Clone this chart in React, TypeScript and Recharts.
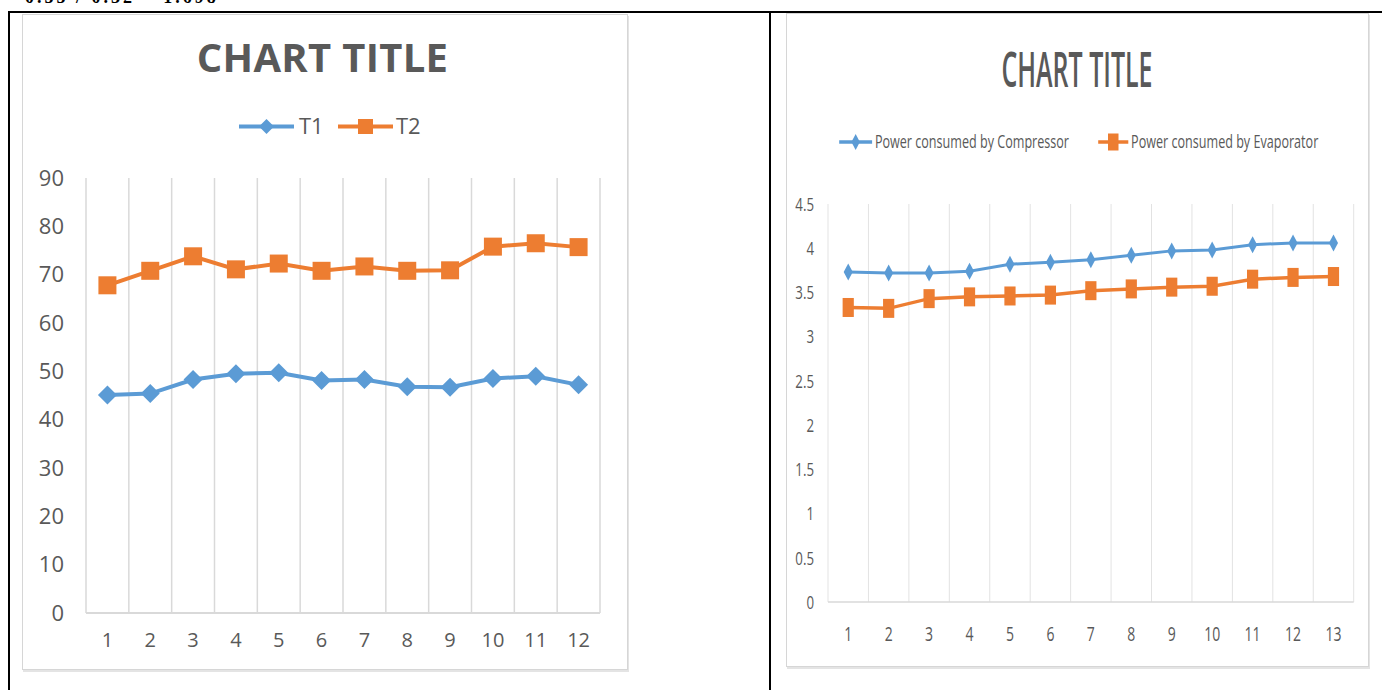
import React from 'react';
import { LineChart, Line, XAxis, YAxis, CartesianGrid } from 'recharts';

// Temperature readings (left chart)
const tempLabels = ['1', '2', '3', '4', '5', '6', '7', '8', '9', '10', '11', '12'];
const t1Values = [45.1, 45.4, 48.3, 49.5, 49.7, 48.1, 48.3, 46.8, 46.7, 48.5, 49.0, 47.2];
const t2Values = [67.8, 70.8, 73.8, 71.1, 72.3, 70.8, 71.7, 70.8, 70.9, 75.8, 76.5, 75.7];
const tempTicks = [0, 10, 20, 30, 40, 50, 60, 70, 80, 90];

// Power consumption readings (right chart)
const powerLabels = ['1', '2', '3', '4', '5', '6', '7', '8', '9', '10', '11', '12', '13'];
const compressorValues = [3.73, 3.72, 3.72, 3.74, 3.82, 3.84, 3.87, 3.92, 3.97, 3.98, 4.04, 4.06, 4.06];
const evaporatorValues = [3.33, 3.32, 3.43, 3.45, 3.46, 3.47, 3.52, 3.54, 3.56, 3.57, 3.65, 3.67, 3.68];
const powerTicks = [0, 0.5, 1, 1.5, 2, 2.5, 3, 3.5, 4, 4.5];

const BLUE = '#5B9BD5';
const ORANGE = '#ED7D31';
const TEXT = '#595959';
const GRID = '#D9D9D9';
const FONT = "'Open Sans', 'Noto Sans', sans-serif";

const tempData = tempLabels.map((label, i) => ({ label, T1: t1Values[i], T2: t2Values[i] }));
const powerData = powerLabels.map((label, i) => ({
  label,
  compressor: compressorValues[i],
  evaporator: evaporatorValues[i],
}));

type MarkProps = { cx?: number; cy?: number; w: number; h: number; fill: string };

function Diamond({ cx, cy, w, h, fill }: MarkProps) {
  if (cx == null || cy == null) return null;
  return (
    <path
      d={`M${cx},${cy - h / 2}L${cx + w / 2},${cy}L${cx},${cy + h / 2}L${cx - w / 2},${cy}Z`}
      fill={fill}
    />
  );
}

function Square({ cx, cy, w, h, fill }: MarkProps) {
  if (cx == null || cy == null) return null;
  return <rect x={cx - w / 2} y={cy - h / 2} width={w} height={h} fill={fill} />;
}

// Vertical grid lines sit on the category boundaries, not the centres
const bandBoundaries = (count: number) => (props: any) => {
  const off = props.offset;
  return Array.from({ length: count + 1 }, (_, i) => off.left + (i * off.width) / count);
};

function TemperatureChart() {
  return (
    <LineChart
      width={606}
      height={656}
      data={tempData}
      margin={{ top: 164, right: 28, left: 14, bottom: 27 }}
      style={{ fontFamily: FONT }}
    >
      <CartesianGrid
        horizontal={false}
        stroke={GRID}
        strokeWidth={1.5}
        verticalCoordinatesGenerator={bandBoundaries(tempLabels.length)}
      />
      <XAxis
        dataKey="label"
        scale="band"
        height={30}
        axisLine={{ stroke: GRID, strokeWidth: 2 }}
        tickLine={false}
        tickSize={0}
        tickMargin={20}
        interval={0}
        tick={{ fill: TEXT, fontSize: 20, fontFamily: FONT }}
      />
      <YAxis
        width={50}
        domain={[0, 90]}
        ticks={tempTicks}
        axisLine={false}
        tickLine={false}
        tickSize={0}
        tickMargin={22}
        interval={0}
        tick={{ fill: TEXT, fontSize: 22, fontFamily: FONT }}
      />
      <Line
        dataKey="T1"
        stroke={BLUE}
        strokeWidth={4}
        isAnimationActive={false}
        activeDot={false}
        dot={(p: any) => <Diamond key={`t1-${p.index}`} cx={p.cx} cy={p.cy} w={19} h={19} fill={BLUE} />}
      />
      <Line
        dataKey="T2"
        stroke={ORANGE}
        strokeWidth={4}
        isAnimationActive={false}
        activeDot={false}
        dot={(p: any) => <Square key={`t2-${p.index}`} cx={p.cx} cy={p.cy} w={18} h={18} fill={ORANGE} />}
      />
    </LineChart>
  );
}

function PowerChart() {
  return (
    <LineChart
      width={833}
      height={654}
      data={powerData}
      margin={{ top: 191, right: 22, left: 15, bottom: 35 }}
      style={{ fontFamily: FONT }}
    >
      <CartesianGrid
        horizontal={false}
        stroke="#E2E2E2"
        strokeWidth={1.4}
        verticalCoordinatesGenerator={bandBoundaries(powerLabels.length)}
      />
      <XAxis
        dataKey="label"
        scale="band"
        height={30}
        axisLine={{ stroke: GRID, strokeWidth: 1.5 }}
        tickLine={false}
        tickSize={0}
        tickMargin={25}
        interval={0}
        tick={{ fill: TEXT, fontSize: 20, fontFamily: FONT }}
      />
      <YAxis
        width={45}
        domain={[0, 4.5]}
        ticks={powerTicks}
        axisLine={false}
        tickLine={false}
        tickSize={0}
        tickMargin={20}
        interval={0}
        tick={{ fill: TEXT, fontSize: 19, fontFamily: FONT }}
      />
      <Line
        dataKey="compressor"
        stroke={BLUE}
        strokeWidth={3}
        isAnimationActive={false}
        activeDot={false}
        dot={(p: any) => <Diamond key={`c-${p.index}`} cx={p.cx} cy={p.cy} w={13} h={17} fill={BLUE} />}
      />
      <Line
        dataKey="evaporator"
        stroke={ORANGE}
        strokeWidth={3.5}
        isAnimationActive={false}
        activeDot={false}
        dot={(p: any) => <Square key={`e-${p.index}`} cx={p.cx} cy={p.cy} w={16} h={19} fill={ORANGE} />}
      />
    </LineChart>
  );
}

const boxStyle: React.CSSProperties = {
  position: 'absolute',
  boxSizing: 'border-box',
  border: '1px solid #D6D6D6',
  boxShadow: '1px 2px 0 #E4E4E4',
  background: '#FFFFFF',
};

export default function App() {
  return (
    <div
      style={{
        position: 'absolute',
        left: 0,
        top: 0,
        width: 1382,
        height: 690,
        overflow: 'hidden',
        background: '#FFFFFF',
      }}
    >
      {/* table rules */}
      <div style={{ position: 'absolute', left: 8, top: 11, width: 1374, height: 2, background: '#000' }} />
      <div style={{ position: 'absolute', left: 8, top: 11, width: 2, height: 679, background: '#000' }} />
      <div style={{ position: 'absolute', left: 769, top: 11, width: 2, height: 679, background: '#000' }} />

      {/* chart frames */}
      <div style={{ ...boxStyle, left: 22, top: 14, width: 606, height: 656 }} />
      <div style={{ ...boxStyle, left: 786, top: 13, width: 583, height: 654 }} />

      <div style={{ position: 'absolute', left: 22, top: 14 }}>
        <TemperatureChart />
      </div>

      <div
        style={{
          position: 'absolute',
          left: 786,
          top: 13,
          width: 833,
          height: 654,
          transform: 'scaleX(0.7)',
          transformOrigin: '0 0',
        }}
      >
        <PowerChart />
      </div>

      {/* titles, legends and the line of text above the table */}
      <svg
        width={1382}
        height={690}
        style={{ position: 'absolute', left: 0, top: 0, pointerEvents: 'none' }}
      >
        <text
          x={25}
          y={3}
          fontFamily="'Liberation Serif', serif"
          fontWeight={700}
          fontSize={18}
          letterSpacing={3}
          fill="#000"
        >
          0.55 / 0.32 = 1.698
        </text>

        <text
          x={322.5}
          y={72}
          textAnchor="middle"
          fontFamily={FONT}
          fontWeight={700}
          fontSize={40}
          letterSpacing={0.3}
          fill={TEXT}
        >
          CHART TITLE
        </text>

        <g>
          <line x1={239} y1={126.5} x2={294} y2={126.5} stroke={BLUE} strokeWidth={4} />
          <Diamond cx={266.5} cy={126.5} w={15} h={15} fill={BLUE} />
          <text x={299} y={134} fontFamily={FONT} fontSize={22} fill={TEXT}>
            T1
          </text>
          <line x1={338} y1={126.5} x2={393} y2={126.5} stroke={ORANGE} strokeWidth={4} />
          <Square cx={365.5} cy={126.5} w={15} h={15} fill={ORANGE} />
          <text x={396} y={134} fontFamily={FONT} fontSize={22} fill={TEXT}>
            T2
          </text>
        </g>

        <g transform="translate(1077,87) scale(0.51,1)">
          <text x={0} y={0} textAnchor="middle" fontFamily={FONT} fontWeight={600} fontSize={49} fill={TEXT}>
            CHART TITLE
          </text>
        </g>

        <g transform="translate(786,0) scale(0.7,1)">
          <line x1={76} y1={142} x2={123} y2={142} stroke={BLUE} strokeWidth={3.5} />
          <Diamond cx={99.5} cy={142} w={12} h={16} fill={BLUE} />
          <text x={127} y={148} fontFamily={FONT} fontSize={18} fill={TEXT}>
            Power consumed by Compressor
          </text>
          <line x1={446} y1={142} x2={489} y2={142} stroke={ORANGE} strokeWidth={3.5} />
          <Square cx={467.5} cy={142} w={15} h={17} fill={ORANGE} />
          <text x={493} y={148} fontFamily={FONT} fontSize={18} fill={TEXT}>
            Power consumed by Evaporator
          </text>
        </g>
      </svg>
    </div>
  );
}
